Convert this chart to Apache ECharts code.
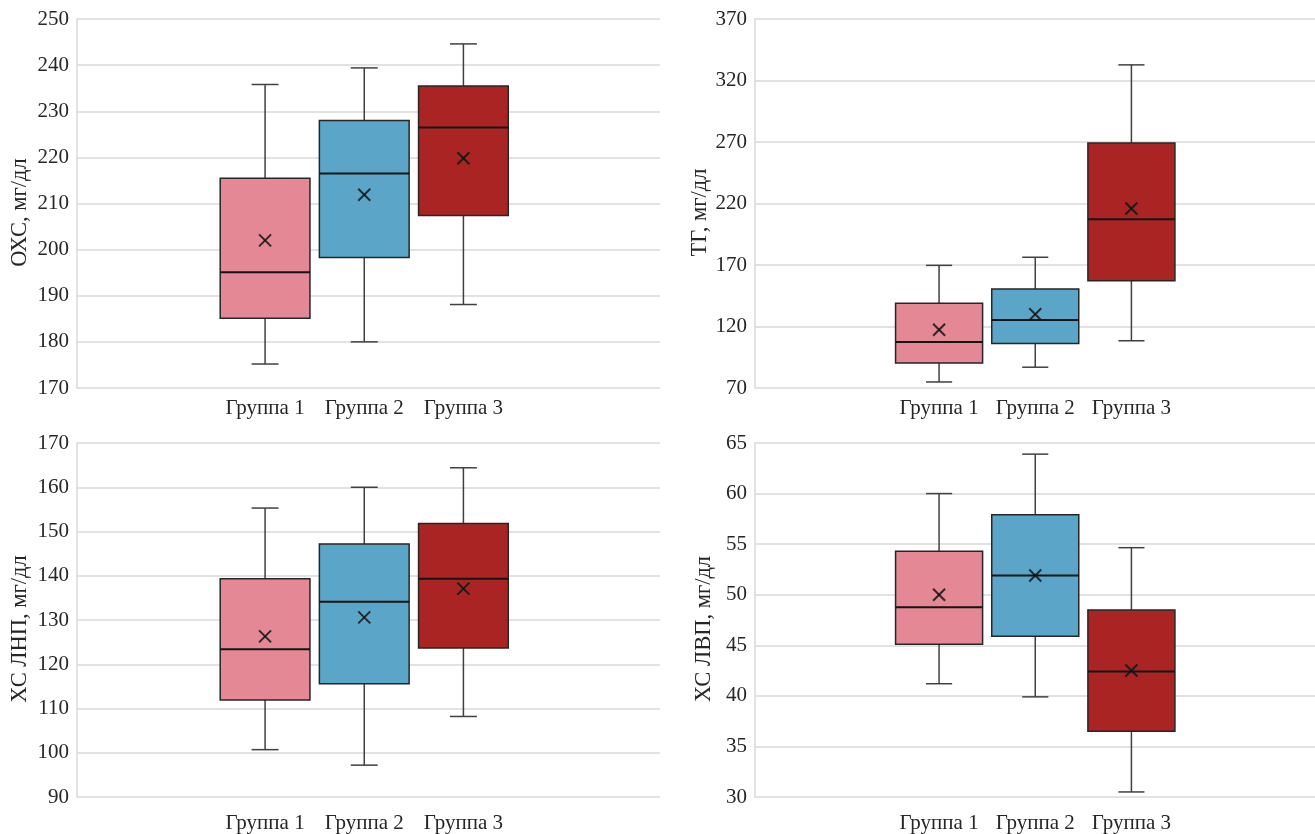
<!DOCTYPE html>
<html><head><meta charset="utf-8">
<script src="https://cdn.jsdelivr.net/npm/echarts@6.0.0/dist/echarts.min.js"></script>
<style>html,body{margin:0;padding:0;background:#fff}#c{width:1315px;height:834px}</style>
</head><body><div id="c"></div>
<script>
const categories = ['Группа 1', 'Группа 2', 'Группа 3'];
const groupColors = ['#E48896', '#5AA5C8', '#AB2424'];
// each box: [min, Q1, median, Q3, max]
const ohsBox = [[175.2, 185.1, 195.1, 215.5, 235.8], [180.0, 198.3, 216.5, 228.0, 239.4], [188.1, 207.4, 226.5, 235.5, 244.6]];
const ohsMean = [202.0, 211.9, 219.8];
const tgBox = [[74.9, 90.4, 107.3, 138.9, 169.7], [86.9, 106.2, 125.3, 150.4, 176.3], [108.4, 157.2, 207.1, 269.2, 332.7]];
const tgMean = [117.4, 129.9, 216.0];
const ldlBox = [[100.7, 111.9, 123.4, 139.3, 155.3], [97.2, 115.6, 134.1, 147.2, 160.0], [108.2, 123.7, 139.3, 151.8, 164.4]];
const ldlMean = [126.3, 130.6, 137.1];
const hdlBox = [[41.2, 45.1, 48.75, 54.3, 60.0], [39.9, 45.9, 51.9, 57.9, 63.9], [30.5, 36.5, 42.4, 48.5, 54.65]];
const hdlMean = [50.0, 51.9, 42.5];
// y axis: [min, max, interval]
const ohsAxis = [170, 250, 10];
const tgAxis = [70, 370, 50];
const ldlAxis = [90, 170, 10];
const hdlAxis = [30, 65, 5];
const axisNames = ['ОХС, мг/дл', 'ТГ, мг/дл', 'ХС ЛНП, мг/дл', 'ХС ЛВП, мг/дл'];

const FONT = 'Liberation Serif';
const TXT = '#262626';

const panels = [
  { box: ohsBox, mean: ohsMean, axis: ohsAxis, name: axisNames[0],
    bg: { left: 77, top: 19, width: 583, height: 369 }, fg: { left: 215.5, top: 19, width: 297.5, height: 369 }, gap: 45, lblMargin: 10 },
  { box: tgBox, mean: tgMean, axis: tgAxis, name: axisNames[1],
    bg: { left: 755, top: 19, width: 560, height: 369 }, fg: { left: 891, top: 19, width: 288.5, height: 369 }, gap: 39, lblMargin: 10 },
  { box: ldlBox, mean: ldlMean, axis: ldlAxis, name: axisNames[2],
    bg: { left: 77, top: 443, width: 583, height: 354 }, fg: { left: 215.5, top: 443, width: 297.5, height: 354 }, gap: 45, lblMargin: 16 },
  { box: hdlBox, mean: hdlMean, axis: hdlAxis, name: axisNames[3],
    bg: { left: 755, top: 443, width: 560, height: 354 }, fg: { left: 891, top: 443, width: 288.5, height: 354 }, gap: 39, lblMargin: 16 }
];

function renderBox(params, api) {
  const i = api.value(0);
  const lo = api.value(1), q1 = api.value(2), md = api.value(3), q3 = api.value(4), hi = api.value(5), mn = api.value(6);
  const band = api.size([1, 0])[0];
  const bw = band * 0.905, cap = bw * 0.3;
  const x = api.coord([i, md])[0];
  const y = v => api.coord([i, v])[1];
  const wl = { stroke: '#404040', lineWidth: 1.5 };
  const ym = y(mn), r = 6;
  return {
    type: 'group',
    children: [
      { type: 'line', shape: { x1: x, y1: y(hi), x2: x, y2: y(q3) }, style: wl },
      { type: 'line', shape: { x1: x, y1: y(q1), x2: x, y2: y(lo) }, style: wl },
      { type: 'line', shape: { x1: x - cap / 2, y1: y(hi), x2: x + cap / 2, y2: y(hi) }, style: wl },
      { type: 'line', shape: { x1: x - cap / 2, y1: y(lo), x2: x + cap / 2, y2: y(lo) }, style: wl },
      { type: 'rect', shape: { x: x - bw / 2, y: y(q3), width: bw, height: y(q1) - y(q3) },
        style: { fill: groupColors[i], stroke: '#262626', lineWidth: 1.5 } },
      { type: 'line', shape: { x1: x - bw / 2, y1: y(md), x2: x + bw / 2, y2: y(md) }, style: { stroke: '#141414', lineWidth: 2 } },
      { type: 'line', shape: { x1: x - r, y1: ym - r, x2: x + r, y2: ym + r }, style: { stroke: 'rgba(20,20,20,0.85)', lineWidth: 2 } },
      { type: 'line', shape: { x1: x - r, y1: ym + r, x2: x + r, y2: ym - r }, style: { stroke: 'rgba(20,20,20,0.85)', lineWidth: 2 } }
    ]
  };
}

const grid = [], xAxis = [], yAxis = [], series = [];
panels.forEach((p, k) => {
  const gb = grid.length;
  grid.push(p.bg, p.fg);
  xAxis.push({ type: 'category', gridIndex: gb, data: categories, show: false });
  xAxis.push({ type: 'category', gridIndex: gb + 1, data: categories,
    axisLine: { show: false }, axisTick: { show: false },
    axisLabel: { interval: 0, hideOverlap: false, fontFamily: FONT, fontSize: 21, color: TXT, margin: p.lblMargin } });
  yAxis.push({ type: 'value', gridIndex: gb, min: p.axis[0], max: p.axis[1], interval: p.axis[2],
    name: p.name, nameLocation: 'middle', nameGap: p.gap,
    nameTextStyle: { fontFamily: FONT, fontSize: 22.5, color: TXT, padding: [0, 18, 0, 0] },
    axisLine: { show: true, lineStyle: { color: '#d9d9d9', width: 1.5 } }, axisTick: { show: false },
    axisLabel: { fontFamily: FONT, fontSize: 21, color: TXT, margin: 8 },
    splitLine: { show: true, lineStyle: { color: '#d9d9d9', width: 1.5 } } });
  yAxis.push({ type: 'value', gridIndex: gb + 1, min: p.axis[0], max: p.axis[1], interval: p.axis[2], show: false,
    splitLine: { show: false } });
  series.push({
    type: 'custom', xAxisIndex: gb + 1, yAxisIndex: gb + 1, renderItem: renderBox,
    encode: { x: 0, y: [1, 2, 3, 4, 5, 6] },
    data: categories.map((c, i) => [i].concat(p.box[i], [p.mean[i]])),
    silent: true, animation: false
  });
});

const chart = echarts.init(document.getElementById('c'), null, { renderer: 'canvas' });
chart.setOption({ animation: false, backgroundColor: '#fff', grid, xAxis, yAxis, series });
</script></body></html>
